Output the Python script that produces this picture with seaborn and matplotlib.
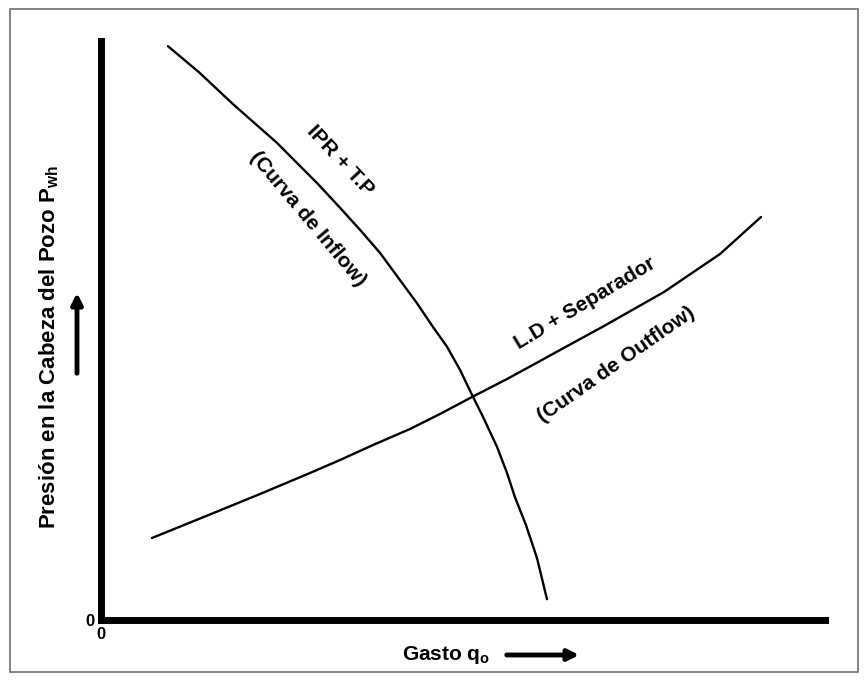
import numpy as np
import pandas as pd
import matplotlib
matplotlib.use("Agg")
import matplotlib.pyplot as plt
from matplotlib.patches import Rectangle, FancyArrowPatch
import seaborn as sns

# IPR + T.P (inflow) curve (axis units 0-100)
ipr_q = [9.25, 13.54, 18.23, 24.31, 29.97, 33.01, 35.77, 38.54, 41.30, 43.65, 45.86,
         47.79, 49.59, 51.24, 52.76, 54.70, 56.08, 57.18, 58.70, 60.22, 61.60]
ipr_p = [99.1, 94.6, 89.1, 82.4, 75.3, 71.2, 67.4, 63.4, 58.7, 54.7, 50.6,
         47.2, 43.2, 38.9, 35.1, 29.9, 25.4, 21.2, 16.4, 10.7, 3.6]

# L.D + Separador (outflow) curve
out_q = [7.04, 15.88, 21.96, 28.87, 33.01, 37.57, 42.68, 46.82, 51.24, 56.08,
         60.64, 63.40, 69.48, 77.76, 85.50, 91.16]
out_p = [14.16, 18.65, 21.76, 25.39, 27.63, 30.22, 32.99, 35.58, 38.51, 41.62,
         44.73, 46.63, 50.78, 56.65, 63.21, 69.60]

curve_labels = ["IPR + T.P", "(Curva de Inflow)", "L.D + Separador", "(Curva de Outflow)"]

sns.set_theme(style="white")
plt.rcParams["font.family"] = ["Liberation Sans", "DejaVu Sans"]
plt.rcParams["mathtext.fontset"] = "custom"
plt.rcParams["mathtext.rm"] = "Liberation Sans:bold"
plt.rcParams["mathtext.it"] = "Liberation Sans:bold"

W, H = 868, 680
fig = plt.figure(figsize=(W / 100, H / 100), dpi=100)
fig.patch.set_facecolor("white")

# axes box: origin at pixel (101, 620), top-right at (825, 41)
ax = fig.add_axes([101 / W, (H - 620) / H, (825 - 101) / W, (620 - 41) / H])
ax.set_facecolor("white")

ipr_df = pd.DataFrame({"q": ipr_q, "p": ipr_p})
out_df = pd.DataFrame({"q": out_q, "p": out_p})
sns.lineplot(data=ipr_df, x="q", y="p", sort=False, color="black", lw=1.7,
             solid_joinstyle="round", ax=ax)
sns.lineplot(data=out_df, x="q", y="p", sort=False, color="black", lw=1.7,
             solid_joinstyle="round", ax=ax)

ax.set_xlim(0, 100)
ax.set_ylim(0, 100)
for side in ["top", "right"]:
    ax.spines[side].set_visible(False)
for side in ["left", "bottom"]:
    ax.spines[side].set_linewidth(5)
    ax.spines[side].set_color("black")
    ax.spines[side].set_capstyle("projecting")

ax.set_xticks([0])
ax.set_yticks([0])
ax.set_xticklabels(["0"], fontsize=12, fontweight="bold")
ax.set_yticklabels(["0"], fontsize=12, fontweight="bold")
ax.tick_params(length=0, pad=5, colors="black")
ax.set_xlabel("")
ax.set_ylabel("")

# curve labels
txt = dict(rotation_mode="anchor", ha="center", va="center", fontsize=15,
           fontweight="bold", color="black")
ax.text(33.0, 79.4, curve_labels[0], rotation=-47, **txt)
ax.text(28.5, 69.3, curve_labels[1], rotation=-50, **txt)
ax.text(66.9, 54.7, curve_labels[2], rotation=31, **txt)
ax.text(71.1, 44.2, curve_labels[3], rotation=35, **txt)

# axis titles with arrows
fig.text(49 / W, 1 - 347 / H, r"Presión en la Cabeza del Pozo P$_{wh}$",
         rotation=90, ha="center", va="center", fontsize=16, fontweight="bold",
         color="black")
fig.text(446 / W, 1 - 655 / H, r"Gasto q$_{o}$",
         ha="center", va="center", fontsize=15, fontweight="bold", color="black")

arrow = dict(arrowstyle="-|>", lw=3.5, color="black", mutation_scale=16)
fig.add_artist(FancyArrowPatch((77 / W, 1 - 376 / H), (77 / W, 1 - 290 / H),
                               transform=fig.transFigure, **arrow))
fig.add_artist(FancyArrowPatch((504 / W, 1 - 655 / H), (582 / W, 1 - 655 / H),
                               transform=fig.transFigure, **arrow))

# outer frame
fig.add_artist(Rectangle((10 / W, 1 - 672 / H), (858 - 10) / W, (672 - 9) / H,
                         transform=fig.transFigure, fill=False,
                         edgecolor="#7a7a7a", lw=1.3))

fig.savefig("out.png", dpi=100)
